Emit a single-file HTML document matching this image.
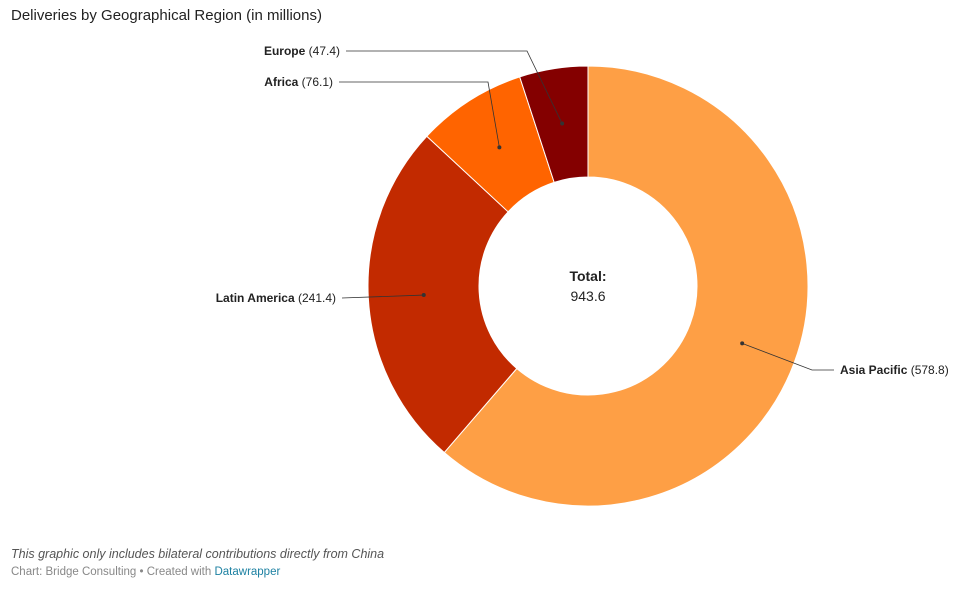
<!DOCTYPE html>
<html><head><meta charset="utf-8"><style>
body{margin:0;background:#fff;font-family:"Liberation Sans",sans-serif;}
#wrap{position:relative;width:960px;height:589px;overflow:hidden}
.title{position:absolute;left:11px;top:7px;font-size:15px;color:#222}
.note{position:absolute;left:11px;top:547px;font-size:12.5px;font-style:italic;color:#555}
.src{position:absolute;left:11px;top:566px;font-size:11.5px;color:#888}
.src a{color:#1d81a2;text-decoration:none}
</style></head><body>
<div id="wrap">
<div class="title">Deliveries by Geographical Region (in millions)</div>
<svg id="chart" width="960" height="589" style="position:absolute;left:0;top:0"></svg>
<div class="note">This graphic only includes bilateral contributions directly from China</div>
<div class="src">Chart: Bridge Consulting • Created with <a>Datawrapper</a></div>
</div>
<script>
const categories=["Asia Pacific","Latin America","Africa","Europe"];
const values=[578.8,241.4,76.1,47.4];
const totalLabel="943.6";
const colors=["#fe9f45","#c22a00","#ff6400","#840000"];
const cx=588,cy=286,R=220,r=109;
const svg=document.getElementById('chart');
const NS="http://www.w3.org/2000/svg";
const total=values.reduce((a,b)=>a+b,0);
function pt(rad,f){const a=f*2*Math.PI;return [cx+rad*Math.sin(a),cy-rad*Math.cos(a)];}
// label anchors (layout)
const labelPos=[{x:840,y:370,side:'r'},{x:336,y:298,side:'l'},{x:333,y:82,side:'l',ex:488},{x:340,y:51,side:'l',ex:527}];
let acc=0;
values.forEach((v,i)=>{
 const f0=acc/total,f1=(acc+v)/total;acc+=v;
 const [x0,y0]=pt(R,f0),[x1,y1]=pt(R,f1),[x2,y2]=pt(r,f1),[x3,y3]=pt(r,f0);
 const large=(f1-f0)>0.5?1:0;
 const p=document.createElementNS(NS,'path');
 p.setAttribute('d',`M${x0},${y0}A${R},${R} 0 ${large} 1 ${x1},${y1}L${x2},${y2}A${r},${r} 0 ${large} 0 ${x3},${y3}Z`);
 p.setAttribute('fill',colors[i]);p.setAttribute('stroke','#fff');p.setAttribute('stroke-width','1');
 
 
 svg.appendChild(p);
 const [dx,dy]=pt((R+r)/2,(f0+f1)/2);
 const L=labelPos[i];
 const line=document.createElementNS(NS,'polyline');
 let pts;
 if(L.side==='r'){pts=`${dx},${dy} ${L.x-28},${L.y} ${L.x-6},${L.y}`;}
 else if(L.ex){pts=`${dx},${dy} ${L.ex},${L.y} ${L.x+6},${L.y}`;}
 else {pts=`${dx},${dy} ${L.x+6},${L.y}`;}
 line.setAttribute('points',pts);line.setAttribute('fill','none');line.setAttribute('stroke','#333');line.setAttribute('stroke-width','0.8');
 
 
 svg.appendChild(line);
 const dot=document.createElementNS(NS,'circle');
 dot.setAttribute('cx',dx);dot.setAttribute('cy',dy);dot.setAttribute('r','2');dot.setAttribute('fill','#333');
 
 
 svg.appendChild(dot);
 const t=document.createElementNS(NS,'text');
 t.setAttribute('x',L.x);t.setAttribute('y',L.y+4);t.setAttribute('font-size','12');t.setAttribute('fill','#222');
 t.setAttribute('text-anchor',L.side==='r'?'start':'end');
 t.setAttribute('font-family','Liberation Sans, sans-serif');
 t.innerHTML=`<tspan font-weight="bold">${categories[i]}</tspan> (${v.toFixed(1)})`;
 
 
 svg.appendChild(t);
});
const t1=document.createElementNS(NS,'text');
t1.setAttribute('x',cx);t1.setAttribute('y',cy-5);t1.setAttribute('text-anchor','middle');t1.setAttribute('font-size','14');t1.setAttribute('font-weight','bold');t1.setAttribute('fill','#222');
t1.textContent='Total:';


svg.appendChild(t1);
const t2=document.createElementNS(NS,'text');
t2.setAttribute('x',cx);t2.setAttribute('y',cy+15);t2.setAttribute('text-anchor','middle');t2.setAttribute('font-size','14');t2.setAttribute('fill','#222');
t2.textContent=totalLabel;


svg.appendChild(t2);
</script>
</body></html>
